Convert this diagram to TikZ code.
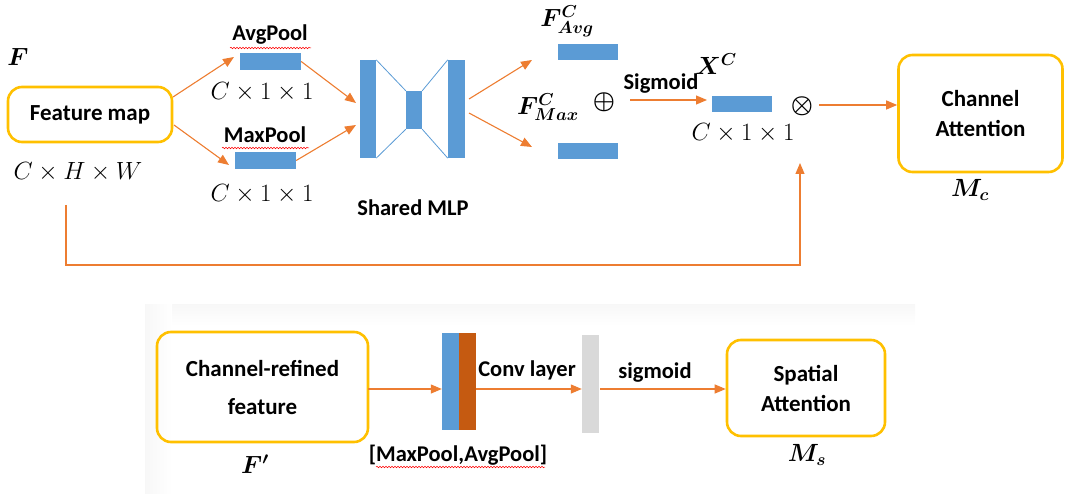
\documentclass[tikz,border=0pt]{standalone}
\usepackage{fontspec}
\setmainfont{Carlito}
\usepackage{amsmath,bm}
\usetikzlibrary{arrows.meta,decorations.pathmorphing,calc}
\definecolor{boxor}{HTML}{FFC000}
\definecolor{arr}{HTML}{ED7D31}
\definecolor{bblue}{HTML}{5B9BD5}
\definecolor{brown}{HTML}{C55A11}
\definecolor{lgray}{HTML}{D9D9D9}
\tikzset{
  attbox/.style={draw=boxor,line width=2.6pt,rounded corners=14pt,inner sep=0pt,align=center,font=\bfseries\fontsize{23}{30}\selectfont},
  bar/.style={fill=bblue,draw=none,inner sep=0pt},
  conn/.style={draw=arr,line width=1.1pt,-{Triangle[length=11pt,width=9pt]}},
  lbl/.style={inner sep=0pt,font=\bfseries\fontsize{22.5}{24}\selectfont},
  mth/.style={inner sep=0pt,font=\fontsize{25}{27}\selectfont},
  bmth/.style={inner sep=0pt,font=\fontsize{25}{27}\selectfont},
  opsym/.style={inner sep=0pt,font=\fontsize{34}{36}\selectfont},
  wavy/.style={draw=red,line width=0.5pt,decorate,decoration={snake,amplitude=0.8pt,segment length=3pt}},
  mlpline/.style={draw=bblue,line width=0.8pt}
}
\begin{document}
\begin{tikzpicture}[x=1pt,y=-1pt]
\useasboundingbox (0,0) rectangle (1065,494);
% faint panel of bottom part
\shade[top color=black!3,bottom color=white] (145,304) rectangle (915,326);
\shade[left color=black!3,right color=white] (145,304) rectangle (172,494);
\fill[white] (172,326) rectangle (915,494);

% ===== top part =====
\node[attbox,minimum width=164pt,minimum height=55pt] (fm) at (90,114.5) {Feature map};
\node[bmth] (Fl) at (18,57) {$\bm{F}$};
\node[mth] (chw) at (78,172) {$C\times H\times W$};

\node[bar,minimum width=61pt,minimum height=17pt] (avg) at (270.5,61.5) {};
\node[lbl] (avgt) at (270,35) {AvgPool};
\draw[wavy] (230,48) -- (311,48);
\node[mth] (avgd) at (262,92) {$C\times 1\times 1$};

\node[bar,minimum width=61pt,minimum height=17pt] (max) at (265.5,160.5) {};
\node[lbl] (maxt) at (265,135) {MaxPool};
\draw[wavy] (222,148) -- (309,148);
\node[mth] (maxd) at (262,194) {$C\times 1\times 1$};

% MLP
\node[bar,minimum width=16pt,minimum height=98pt] (ml) at (368,109) {};
\node[bar,minimum width=16pt,minimum height=38pt] (mm) at (414,110) {};
\node[bar,minimum width=17pt,minimum height=98pt] (mr) at (456.5,109) {};
\draw[mlpline] (ml.north east) -- (mm.north west);
\draw[mlpline] (ml.south east) -- (mm.south west);
\draw[mlpline] (mm.north east) -- (mr.north west);
\draw[mlpline] (mm.south east) -- (mr.south west);
\node[lbl] (smlp) at (413,208) {Shared MLP};

\coordinate (fmA) at (173,97);
\coordinate (fmB) at (174,125);
\coordinate (avgE) at (234,57);
\coordinate (maxE) at (229,165);
\coordinate (mlA) at (356,103);
\coordinate (mlB) at (356,125);
\draw[conn] (fmA) -- (avgE);
\draw[conn] (fmB) -- (maxE);
\draw[conn] (avg.east) -- (mlA);
\draw[conn] (max.east) -- (mlB);

% outputs
\node[bar,minimum width=60pt,minimum height=16pt] (fa) at (588,52) {};
\node[bar,minimum width=60pt,minimum height=16pt] (fx) at (588,151) {};
\node[bmth] (fat) at (567,21) {$\bm{F^{C}_{Avg}}$};
\node[bmth] (fxt) at (548,107) {$\bm{F^{C}_{Max}}$};
\node[opsym] (op) at (604,102) {$\bm{\oplus}$};
\coordinate (mrA) at (469,99);
\coordinate (mrB) at (469,113);
\coordinate (faE) at (532,60);
\coordinate (fxE) at (532,147);
\draw[conn] (mrA) -- (faE);
\draw[conn] (mrB) -- (fxE);

\node[lbl] (sig) at (661,84) {Sigmoid};
\node[bar,minimum width=60pt,minimum height=16pt] (xc) at (742,104) {};
\node[bmth] (xct) at (716,64) {$\bm{X^{C}}$};
\node[mth] (xcd) at (743,133) {$C\times 1\times 1$};
\coordinate (sigS) at (630,100);
\coordinate (sigE) at (707,100);
\draw[conn] (sigS) -- (sigE);

\node[opsym] (ot) at (802,106) {$\bm{\otimes}$};
\node[attbox,minimum width=164pt,minimum height=117pt] (ca) at (980.5,113.5) {Channel\\Attention};
\node[bmth] (mc) at (970,190) {$\bm{M_c}$};
\coordinate (otR) at (819,105);
\draw[conn] (otR) -- (ca.west |- otR);

% feedback
\coordinate (fbA) at (66,205);
\coordinate (fbB) at (66,265);
\coordinate (fbC) at (800,265);
\coordinate (fbD) at (800,163);
\draw[conn] (fbA) -- (fbB) -- (fbC) -- (fbD);

% ===== bottom part =====
\node[attbox,minimum width=211pt,minimum height=110pt] (cr) at (262.5,387) {Channel-refined\\[8pt]feature};
\node[bmth] (fp) at (255,464) {$\bm{F'}$};

\node[bar,minimum width=17pt,minimum height=97pt] (pb) at (450.5,381.5) {};
\node[fill=brown,inner sep=0pt,minimum width=17pt,minimum height=97pt] (pr) at (467.5,381.5) {};
\node[lbl] (mat) at (458,455) {[MaxPool,AvgPool]};
\draw[wavy] (376,467) -- (545,467);
\node[lbl] (conv) at (527,370) {Conv layer};

\node[fill=lgray,inner sep=0pt,minimum width=17pt,minimum height=98pt] (gb) at (590.5,384) {};
\node[lbl] (sgm) at (655,373) {sigmoid};

\node[attbox,minimum width=158pt,minimum height=96pt] (sa) at (806,388) {Spatial\\Attention};
\node[bmth] (ms) at (807,455) {$\bm{M_s}$};

\coordinate (crR) at (368,389);
\draw[conn] (crR) -- (pb.west |- crR);
\coordinate (prR) at (476,389);
\draw[conn] (prR) -- (gb.west |- prR);
\coordinate (gbR) at (600,389);
\draw[conn] (gbR) -- (sa.west |- gbR);
\end{tikzpicture}
\end{document}
